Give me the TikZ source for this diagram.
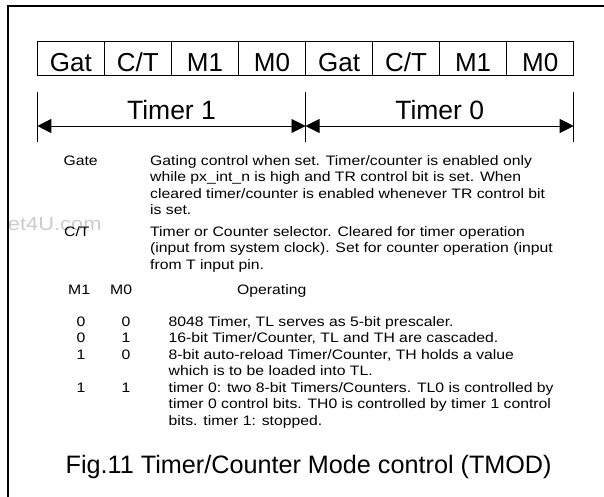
\documentclass[tikz,border=0pt]{standalone}
\usepackage{fontspec}
\setmainfont{Liberation Sans}
\newfontfamily\bodyfont[FakeStretch=1.15]{Liberation Sans}
\usetikzlibrary{arrows.meta,positioning}

\tikzset{
	cell/.style={draw,line width=0.9pt,outer sep=0pt,inner sep=0pt,
		minimum width=67.05pt,minimum height=33.3pt,
		text height=30pt,text depth=3.3pt,font=\fontsize{26}{30}\selectfont},
	tick/.style={line width=0.9pt},
	dim/.style={line width=0.9pt,arrows={Triangle[length=14pt,width=14pt]-Triangle[length=14pt,width=14pt]}},
	big/.style={inner sep=0pt,font=\fontsize{26.5}{30}\selectfont},
	body/.style={inner sep=0pt,align=left,font=\bodyfont\fontsize{13.7}{16.4}\selectfont},
}

\begin{document}
\begin{tikzpicture}[x=1pt,y=-1pt]

	\useasboundingbox (0,0) rectangle (604,497);

	% watermark
	\node[inner sep=0pt,anchor=base east,text=black!20,font=\bodyfont\fontsize{19}{20}\selectfont] (wm) at (101.7,230) {et4U.com};

	% frame
	\draw[line width=2pt] (8.3,497) -- (8.3,5.7) -- (604,5.7);

	% TMOD register
	\node[cell,anchor=north west] (gat1) at (37.3,41.7) {Gat};
	\node[cell,right=0pt of gat1] (ct1) {C/T};
	\node[cell,right=0pt of ct1] (mone1) {M1};
	\node[cell,right=0pt of mone1] (mzero1) {M0};
	\node[cell,right=0pt of mzero1] (gat0) {Gat};
	\node[cell,right=0pt of gat0] (ct0) {C/T};
	\node[cell,right=0pt of ct0] (mone0) {M1};
	\node[cell,right=0pt of mone0] (mzero0) {M0};

	% timer ranges
	\coordinate (tl) at ([yshift=-17pt]gat1.south west);
	\coordinate (tm) at ([yshift=-17pt]gat0.south west);
	\coordinate (tr) at ([yshift=-17pt]mzero0.south east);
	\draw[tick] (tl) -- ++(0,49.7);
	\draw[tick] (tm) -- ++(0,49.7);
	\draw[tick] (tr) -- ++(0,49.7);

	\coordinate (al) at ([yshift=-34pt]tl);
	\coordinate (am) at ([yshift=-34pt]tm);
	\coordinate (ar) at ([yshift=-34pt]tr);
	\draw[dim] (al) -- (am);
	\draw[dim] (am) -- (ar);

	\node[big,anchor=base] (timer1) at (171.5,120) {Timer 1};
	\node[big,anchor=base] (timer0) at (439.7,120) {Timer 0};

	% bit descriptions (base = last line)
	\node[body,anchor=base west] (gate) at (63.3,165.4) {Gate};
	\node[body,anchor=base west] (gatetxt) at (150,214.6) {Gating control when set. Timer/counter is enabled only\\while px\_int\_n is high and TR control bit is set. When\\cleared timer/counter is enabled whenever TR control bit\\is set.};
	\node[body,anchor=base west] (ct) at (64,236.5) {C/T};
	\node[body,anchor=base west] (cttxt) at (150,269.3) {Timer or Counter selector. Cleared for timer operation\\(input from system clock). Set for counter operation (input\\from T input pin.};

	% mode table
	\node[body,anchor=base west] (hm1) at (68,294) {M1};
	\node[body,anchor=base west] (hm0) at (110,294) {M0};
	\node[body,anchor=base west] (hop) at (237,294) {Operating};

	\node[body,anchor=base] (r0a) at (81,326) {0};
	\node[body,anchor=base] (r0b) at (126,326) {0};
	\node[body,anchor=base west] (r0t) at (168.5,326) {8048 Timer, TL serves as 5-bit prescaler.};

	\node[body,anchor=base] (r1a) at (81,342.6) {0};
	\node[body,anchor=base] (r1b) at (126,342.6) {1};
	\node[body,anchor=base west] (r1t) at (168.5,342.6) {16-bit Timer/Counter, TL and TH are cascaded.};

	\node[body,anchor=base] (r2a) at (81,359.2) {1};
	\node[body,anchor=base] (r2b) at (126,359.2) {0};
	\node[body,anchor=base west] (r2t) at (168.5,375.6) {8-bit auto-reload Timer/Counter, TH holds a value\\which is to be loaded into TL.};

	\node[body,anchor=base] (r3a) at (81,392.4) {1};
	\node[body,anchor=base] (r3b) at (126,392.4) {1};
	\node[body,anchor=base west] (r3t) at (168.5,425.2) {timer 0: two 8-bit Timers/Counters. TL0 is controlled by\\timer 0 control bits. TH0 is controlled by timer 1 control\\bits. timer 1: stopped.};

	\node[inner sep=0pt,anchor=base west,font=\fontsize{25.2}{28}\selectfont] (cap) at (65.5,473) {Fig.11 Timer/Counter Mode control (TMOD)};

\end{tikzpicture}
\end{document}
